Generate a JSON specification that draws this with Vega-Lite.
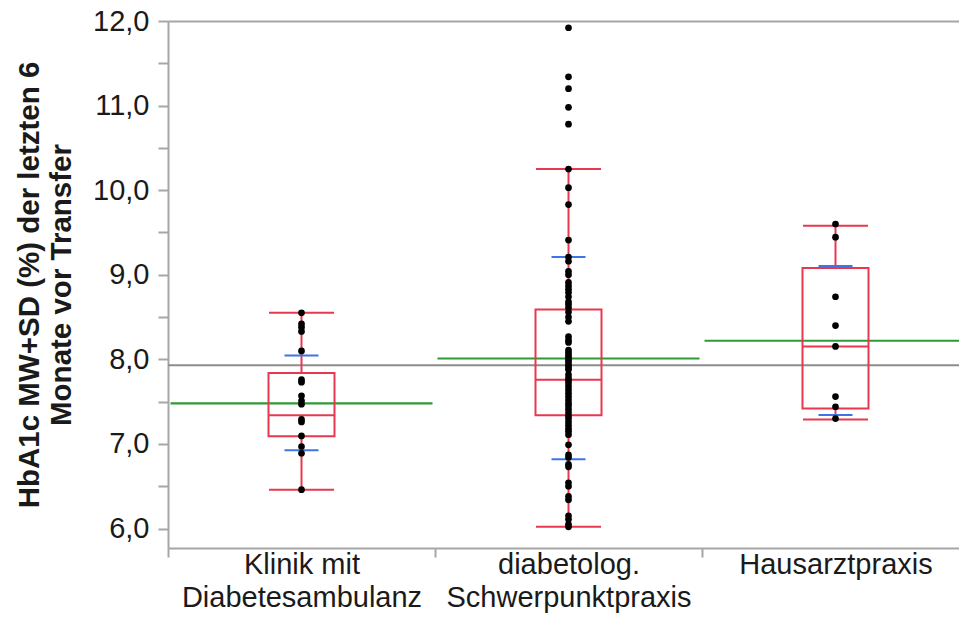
{
  "$schema": "https://vega.github.io/schema/vega-lite/v6.json",
  "autosize": {"type": "none"},
  "padding": {"left": 168, "top": 21, "right": 0, "bottom": 70},
  "width": 791,
  "height": 527,
  "background": "white",
  "config": {
    "view": {"stroke": null},
    "font": "Liberation Sans",
    "axis": {"labelFont": "Liberation Sans", "titleFont": "Liberation Sans", "labelColor": "#1a1a1a", "titleColor": "#1a1a1a", "domainColor": "#a6a6a6", "tickColor": "#a6a6a6", "grid": false, "labelLimit": 0}
  },
  "datasets": {
    "points": [
      {"group": "Klinik mit Diabetesambulanz", "hba1c": 8.55},
      {"group": "Klinik mit Diabetesambulanz", "hba1c": 8.42},
      {"group": "Klinik mit Diabetesambulanz", "hba1c": 8.38},
      {"group": "Klinik mit Diabetesambulanz", "hba1c": 8.33},
      {"group": "Klinik mit Diabetesambulanz", "hba1c": 8.10},
      {"group": "Klinik mit Diabetesambulanz", "hba1c": 7.76},
      {"group": "Klinik mit Diabetesambulanz", "hba1c": 7.73},
      {"group": "Klinik mit Diabetesambulanz", "hba1c": 7.57},
      {"group": "Klinik mit Diabetesambulanz", "hba1c": 7.51},
      {"group": "Klinik mit Diabetesambulanz", "hba1c": 7.47},
      {"group": "Klinik mit Diabetesambulanz", "hba1c": 7.29},
      {"group": "Klinik mit Diabetesambulanz", "hba1c": 7.26},
      {"group": "Klinik mit Diabetesambulanz", "hba1c": 7.095},
      {"group": "Klinik mit Diabetesambulanz", "hba1c": 6.97},
      {"group": "Klinik mit Diabetesambulanz", "hba1c": 6.89},
      {"group": "Klinik mit Diabetesambulanz", "hba1c": 6.46},
      {"group": "diabetolog. Schwerpunktpraxis", "hba1c": 11.92},
      {"group": "diabetolog. Schwerpunktpraxis", "hba1c": 11.34},
      {"group": "diabetolog. Schwerpunktpraxis", "hba1c": 11.20},
      {"group": "diabetolog. Schwerpunktpraxis", "hba1c": 10.98},
      {"group": "diabetolog. Schwerpunktpraxis", "hba1c": 10.78},
      {"group": "diabetolog. Schwerpunktpraxis", "hba1c": 10.25},
      {"group": "diabetolog. Schwerpunktpraxis", "hba1c": 10.03},
      {"group": "diabetolog. Schwerpunktpraxis", "hba1c": 9.83},
      {"group": "diabetolog. Schwerpunktpraxis", "hba1c": 9.41},
      {"group": "diabetolog. Schwerpunktpraxis", "hba1c": 9.21},
      {"group": "diabetolog. Schwerpunktpraxis", "hba1c": 9.16},
      {"group": "diabetolog. Schwerpunktpraxis", "hba1c": 9.04},
      {"group": "diabetolog. Schwerpunktpraxis", "hba1c": 9.00},
      {"group": "diabetolog. Schwerpunktpraxis", "hba1c": 8.91},
      {"group": "diabetolog. Schwerpunktpraxis", "hba1c": 8.87},
      {"group": "diabetolog. Schwerpunktpraxis", "hba1c": 8.83},
      {"group": "diabetolog. Schwerpunktpraxis", "hba1c": 8.79},
      {"group": "diabetolog. Schwerpunktpraxis", "hba1c": 8.74},
      {"group": "diabetolog. Schwerpunktpraxis", "hba1c": 8.68},
      {"group": "diabetolog. Schwerpunktpraxis", "hba1c": 8.65},
      {"group": "diabetolog. Schwerpunktpraxis", "hba1c": 8.61},
      {"group": "diabetolog. Schwerpunktpraxis", "hba1c": 8.56},
      {"group": "diabetolog. Schwerpunktpraxis", "hba1c": 8.50},
      {"group": "diabetolog. Schwerpunktpraxis", "hba1c": 8.45},
      {"group": "diabetolog. Schwerpunktpraxis", "hba1c": 8.27},
      {"group": "diabetolog. Schwerpunktpraxis", "hba1c": 8.23},
      {"group": "diabetolog. Schwerpunktpraxis", "hba1c": 8.20},
      {"group": "diabetolog. Schwerpunktpraxis", "hba1c": 8.11},
      {"group": "diabetolog. Schwerpunktpraxis", "hba1c": 8.08},
      {"group": "diabetolog. Schwerpunktpraxis", "hba1c": 8.05},
      {"group": "diabetolog. Schwerpunktpraxis", "hba1c": 8.02},
      {"group": "diabetolog. Schwerpunktpraxis", "hba1c": 7.99},
      {"group": "diabetolog. Schwerpunktpraxis", "hba1c": 7.96},
      {"group": "diabetolog. Schwerpunktpraxis", "hba1c": 7.93},
      {"group": "diabetolog. Schwerpunktpraxis", "hba1c": 7.90},
      {"group": "diabetolog. Schwerpunktpraxis", "hba1c": 7.88},
      {"group": "diabetolog. Schwerpunktpraxis", "hba1c": 7.82},
      {"group": "diabetolog. Schwerpunktpraxis", "hba1c": 7.78},
      {"group": "diabetolog. Schwerpunktpraxis", "hba1c": 7.75},
      {"group": "diabetolog. Schwerpunktpraxis", "hba1c": 7.72},
      {"group": "diabetolog. Schwerpunktpraxis", "hba1c": 7.68},
      {"group": "diabetolog. Schwerpunktpraxis", "hba1c": 7.64},
      {"group": "diabetolog. Schwerpunktpraxis", "hba1c": 7.60},
      {"group": "diabetolog. Schwerpunktpraxis", "hba1c": 7.56},
      {"group": "diabetolog. Schwerpunktpraxis", "hba1c": 7.52},
      {"group": "diabetolog. Schwerpunktpraxis", "hba1c": 7.48},
      {"group": "diabetolog. Schwerpunktpraxis", "hba1c": 7.45},
      {"group": "diabetolog. Schwerpunktpraxis", "hba1c": 7.41},
      {"group": "diabetolog. Schwerpunktpraxis", "hba1c": 7.37},
      {"group": "diabetolog. Schwerpunktpraxis", "hba1c": 7.33},
      {"group": "diabetolog. Schwerpunktpraxis", "hba1c": 7.30},
      {"group": "diabetolog. Schwerpunktpraxis", "hba1c": 7.26},
      {"group": "diabetolog. Schwerpunktpraxis", "hba1c": 7.22},
      {"group": "diabetolog. Schwerpunktpraxis", "hba1c": 7.18},
      {"group": "diabetolog. Schwerpunktpraxis", "hba1c": 7.15},
      {"group": "diabetolog. Schwerpunktpraxis", "hba1c": 7.11},
      {"group": "diabetolog. Schwerpunktpraxis", "hba1c": 6.99},
      {"group": "diabetolog. Schwerpunktpraxis", "hba1c": 6.87},
      {"group": "diabetolog. Schwerpunktpraxis", "hba1c": 6.84},
      {"group": "diabetolog. Schwerpunktpraxis", "hba1c": 6.76},
      {"group": "diabetolog. Schwerpunktpraxis", "hba1c": 6.73},
      {"group": "diabetolog. Schwerpunktpraxis", "hba1c": 6.54},
      {"group": "diabetolog. Schwerpunktpraxis", "hba1c": 6.50},
      {"group": "diabetolog. Schwerpunktpraxis", "hba1c": 6.38},
      {"group": "diabetolog. Schwerpunktpraxis", "hba1c": 6.34},
      {"group": "diabetolog. Schwerpunktpraxis", "hba1c": 6.15},
      {"group": "diabetolog. Schwerpunktpraxis", "hba1c": 6.11},
      {"group": "diabetolog. Schwerpunktpraxis", "hba1c": 6.05},
      {"group": "diabetolog. Schwerpunktpraxis", "hba1c": 6.02},
      {"group": "Hausarztpraxis", "hba1c": 9.60},
      {"group": "Hausarztpraxis", "hba1c": 9.445},
      {"group": "Hausarztpraxis", "hba1c": 8.74},
      {"group": "Hausarztpraxis", "hba1c": 8.40},
      {"group": "Hausarztpraxis", "hba1c": 8.153},
      {"group": "Hausarztpraxis", "hba1c": 7.56},
      {"group": "Hausarztpraxis", "hba1c": 7.44},
      {"group": "Hausarztpraxis", "hba1c": 7.30}
    ],
    "summary": [
      {"group": "Klinik mit Diabetesambulanz", "lo": 6.46, "q1": 7.09, "median": 7.34, "q3": 7.84, "hi": 8.55, "mean": 7.48, "sdlo": 6.925, "sdhi": 8.047},
      {"group": "diabetolog. Schwerpunktpraxis", "lo": 6.02, "q1": 7.34, "median": 7.76, "q3": 8.59, "hi": 10.25, "mean": 8.01, "sdlo": 6.82, "sdhi": 9.21},
      {"group": "Hausarztpraxis", "lo": 7.29, "q1": 7.42, "median": 8.153, "q3": 9.08, "hi": 9.58, "mean": 8.22, "sdlo": 7.343, "sdhi": 9.105}
    ],
    "grand": [{"grand_mean": 7.93}]
  },
  "resolve": {"axis": {"x": "independent"}},
  "layer": [
    {
      "data": {"name": "grand"},
      "mark": {"type": "rule", "color": "#8c8c8c", "strokeWidth": 2},
      "encoding": {
        "y": {"field": "grand_mean", "type": "quantitative", "scale": {"domain": [5.77, 12.0], "nice": false, "zero": false},
              "axis": {"title": ["HbA1c MW+SD (%) der letzten 6", "Monate vor Transfer"], "titleFontSize": 29.5, "titleFontWeight": "bold", "titlePadding": 16, "titleLineHeight": 32,
                       "values": [6, 6.5, 7, 7.5, 8, 8.5, 9, 9.5, 10, 10.5, 11, 11.5, 12],
                       "labelExpr": "datum.value % 1 == 0 ? replace(format(datum.value, '.1f'), '.', ',') : ''",
                       "labelFontSize": 29, "labelPadding": 9, "tickSize": 10, "tickWidth": 2, "domainWidth": 2}}
      }
    },
    {
      "data": {"name": "summary"},
      "mark": {"type": "tick", "color": "#2e9a35", "size": 262, "thickness": 2.2, "opacity": 1},
      "encoding": {
        "x": {"field": "group", "type": "nominal", "sort": ["Klinik mit Diabetesambulanz", "diabetolog. Schwerpunktpraxis", "Hausarztpraxis"],
              "scale": {"range": [0, 801], "paddingInner": 0, "paddingOuter": 0},
              "axis": {"orient": "top", "title": null, "labels": false, "ticks": false, "domain": true, "domainColor": "#a6a6a6", "domainWidth": 2}},
        "y": {"field": "mean", "type": "quantitative"}
      }
    },
    {
      "data": {"name": "summary"},
      "mark": {"type": "rule", "color": "#e8384f", "strokeWidth": 2},
      "encoding": {
        "x": {"field": "group", "type": "nominal", "sort": ["Klinik mit Diabetesambulanz", "diabetolog. Schwerpunktpraxis", "Hausarztpraxis"], "axis": null},
        "y": {"field": "lo", "type": "quantitative"},
        "y2": {"field": "q1"}
      }
    },
    {
      "data": {"name": "summary"},
      "mark": {"type": "rule", "color": "#e8384f", "strokeWidth": 2},
      "encoding": {
        "x": {"field": "group", "type": "nominal", "sort": ["Klinik mit Diabetesambulanz", "diabetolog. Schwerpunktpraxis", "Hausarztpraxis"], "axis": null},
        "y": {"field": "q3", "type": "quantitative"},
        "y2": {"field": "hi"}
      }
    },
    {
      "data": {"name": "summary"},
      "mark": {"type": "bar", "filled": false, "stroke": "#e8384f", "strokeWidth": 2, "width": 66, "fill": null},
      "encoding": {
        "x": {"field": "group", "type": "nominal", "sort": ["Klinik mit Diabetesambulanz", "diabetolog. Schwerpunktpraxis", "Hausarztpraxis"], "axis": null},
        "y": {"field": "q1", "type": "quantitative"},
        "y2": {"field": "q3"}
      }
    },
    {
      "data": {"name": "summary"},
      "mark": {"type": "tick", "color": "#e8384f", "size": 66, "thickness": 2, "opacity": 1},
      "encoding": {
        "x": {"field": "group", "type": "nominal", "sort": ["Klinik mit Diabetesambulanz", "diabetolog. Schwerpunktpraxis", "Hausarztpraxis"], "axis": null},
        "y": {"field": "median", "type": "quantitative"}
      }
    },
    {
      "data": {"name": "summary"},
      "mark": {"type": "tick", "color": "#e8384f", "size": 65, "thickness": 2, "opacity": 1},
      "encoding": {
        "x": {"field": "group", "type": "nominal", "sort": ["Klinik mit Diabetesambulanz", "diabetolog. Schwerpunktpraxis", "Hausarztpraxis"], "axis": null},
        "y": {"field": "lo", "type": "quantitative"}
      }
    },
    {
      "data": {"name": "summary"},
      "mark": {"type": "tick", "color": "#e8384f", "size": 65, "thickness": 2, "opacity": 1},
      "encoding": {
        "x": {"field": "group", "type": "nominal", "sort": ["Klinik mit Diabetesambulanz", "diabetolog. Schwerpunktpraxis", "Hausarztpraxis"], "axis": null},
        "y": {"field": "hi", "type": "quantitative"}
      }
    },
    {
      "data": {"name": "summary"},
      "mark": {"type": "tick", "color": "#3f74e6", "size": 34, "thickness": 2, "opacity": 1},
      "encoding": {
        "x": {"field": "group", "type": "nominal", "sort": ["Klinik mit Diabetesambulanz", "diabetolog. Schwerpunktpraxis", "Hausarztpraxis"], "axis": null},
        "y": {"field": "sdlo", "type": "quantitative"}
      }
    },
    {
      "data": {"name": "summary"},
      "mark": {"type": "tick", "color": "#3f74e6", "size": 34, "thickness": 2, "opacity": 1},
      "encoding": {
        "x": {"field": "group", "type": "nominal", "sort": ["Klinik mit Diabetesambulanz", "diabetolog. Schwerpunktpraxis", "Hausarztpraxis"], "axis": null},
        "y": {"field": "sdhi", "type": "quantitative"}
      }
    },
    {
      "data": {"name": "points"},
      "mark": {"type": "circle", "color": "black", "size": 45, "opacity": 1},
      "encoding": {
        "x": {"field": "group", "type": "nominal", "sort": ["Klinik mit Diabetesambulanz", "diabetolog. Schwerpunktpraxis", "Hausarztpraxis"],
              "axis": {"orient": "bottom", "title": null, "labelAngle": 0, "tickBand": "extent", "tickSize": 9, "tickWidth": 2, "domainWidth": 2,
                       "labelFontSize": 29, "labelPadding": -7, "labelLineHeight": 33, "labelBaseline": "top",
                       "labelExpr": "datum.value == 'Klinik mit Diabetesambulanz' ? ['Klinik mit', 'Diabetesambulanz'] : datum.value == 'diabetolog. Schwerpunktpraxis' ? ['diabetolog.', 'Schwerpunktpraxis'] : datum.value"}},
        "y": {"field": "hba1c", "type": "quantitative"}
      }
    }
  ]
}
